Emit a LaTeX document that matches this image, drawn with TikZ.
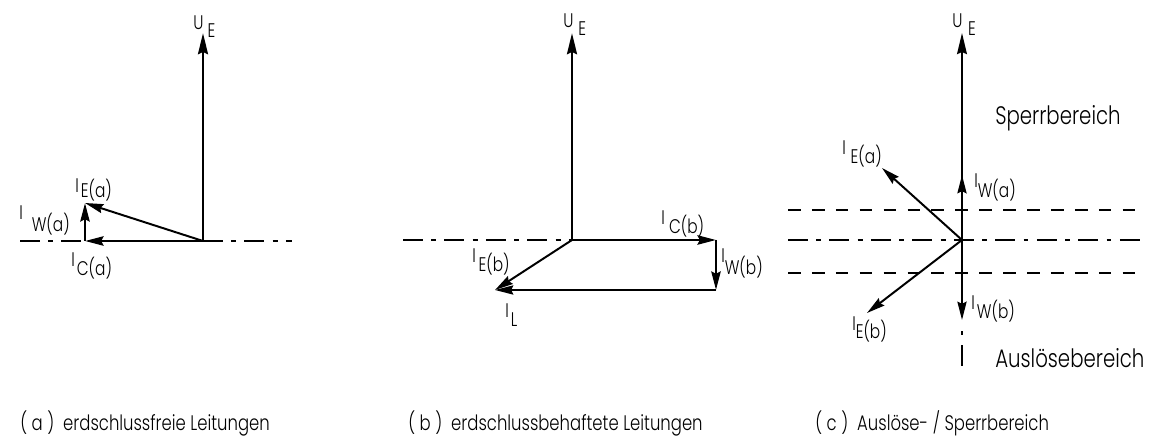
\documentclass[tikz,border=0pt]{standalone}
\usepackage{fontspec}
\setmainfont{Poppins Light}[FakeStretch=0.78]
\usetikzlibrary{arrows.meta}
\newcommand{\phasor}[4][I]{#1\hspace*{#2}\raisebox{-#3}{#4}}

\begin{document}
\begin{tikzpicture}[x=0.025cm,y=-0.025cm,
  vec/.style={line width=2.1pt,-{Stealth[length=13pt,width=6.5pt,inset=1.5pt]}},
  bigvec/.style={line width=2.1pt,-{Stealth[length=15pt,width=7pt,inset=1.5pt]}},
  thinvec/.style={line width=1.4pt,-{Stealth[length=13pt,width=6.5pt,inset=1.5pt]}},
  axis/.style={line width=2.1pt,dash pattern=on 14pt off 6pt on 3.5pt off 6pt},
  band/.style={line width=1.4pt,dash pattern=on 9pt off 8pt},
  lbl/.style={anchor=base west,inner sep=0pt,font=\fontsize{14}{16}\selectfont},
  region/.style={anchor=base west,inner sep=0pt,font=\fontsize{18}{20}\selectfont},
  caption/.style={anchor=base west,inner sep=0pt,font=\fontsize{15}{18}\selectfont}]
\useasboundingbox (0,0) rectangle (1152,446);

% (a) erdschlussfreie Leitungen
\coordinate (oa) at (203,241);
\coordinate (ua) at (203,33);
\coordinate (axl) at (20,241);
\coordinate (axr) at (292,241);
\coordinate (ica) at (85,241);
\coordinate (iwa) at (85,203);
\draw[axis] (axl) -- (ica);
\draw[axis] (oa) -- (axr);
\draw[bigvec] (oa) -- (ua);
\draw[vec] (oa) -- (ica);
\draw[vec] (ica) -- (iwa);
\draw[thinvec] (oa) -- (iwa);
\node[lbl] (ua-l) at (193,30) {\phasor[U]{3pt}{5pt}{E}};
\node[lbl] (iea-l) at (75,193) {\phasor{1.5pt}{3pt}{E(a)}};
\node[lbl] (iwa-l) at (19,220) {\phasor{6.4pt}{8.5pt}{W(a)}};
\node[lbl] (ica-l) at (71,267) {\phasor{1.5pt}{5.7pt}{C(a)}};
\node[caption] (cap-a) at (20,430) {( a )\ \ erdschlussfreie Leitungen};

% (b) erdschlussbehaftete Leitungen
\coordinate (ob) at (572,240);
\coordinate (ub) at (572,33);
\coordinate (bxl) at (403,240);
\coordinate (icb) at (716,240);
\coordinate (iwb) at (716,290);
\coordinate (ieb) at (495,290);
\draw[axis] (bxl) -- (ob);
\draw[bigvec] (ob) -- (ub);
\draw[vec] (ob) -- (icb);
\draw[vec] (icb) -- (iwb);
\draw[thinvec] (iwb) -- (ieb);
\draw[thinvec] (ob) -- (ieb);
\node[lbl] (ub-l) at (563,28) {\phasor[U]{3.5pt}{5pt}{E}};
\node[lbl] (icb-l) at (661,225) {\phasor{3pt}{5.7pt}{C(b)}};
\node[lbl] (iwb-l) at (721,263) {\phasor{0pt}{8pt}{W(b)}};
\node[lbl] (ieb-l) at (472,263) {\phasor{2pt}{6.4pt}{E(b)}};
\node[lbl] (il-l) at (505,317) {\phasor{1.5pt}{6.4pt}{L}};
\node[caption] (cap-b) at (408,430) {( b )\ \ erdschlussbehaftete Leitungen};

% (c) Ausloese- / Sperrbereich
\coordinate (oc) at (962,240);
\coordinate (uc) at (962,33);
\coordinate (cxl) at (788,240);
\coordinate (cxr) at (1143,240);
\coordinate (bul) at (788,210);
\coordinate (bur) at (1140,210);
\coordinate (bdl) at (788,273);
\coordinate (bdr) at (1140,273);
\coordinate (iwac) at (962,175);
\coordinate (iwbc) at (962,320);
\coordinate (iea) at (882,168);
\coordinate (iebc) at (867,313);
\coordinate (cend) at (962,366);
\draw[band] (bul) -- (bur);
\draw[band] (bdl) -- (bdr);
\draw[axis] (cxl) -- (cxr);
\draw[line width=1.4pt,dash pattern=on 0pt off 8pt on 3pt off 7pt on 15pt off 20pt] (iwbc) -- (cend);
\draw[thinvec,-{Stealth[length=15pt,width=7pt,inset=1.5pt]}] (oc) -- (uc);
\draw[thinvec] (oc) -- (iwac);
\draw[thinvec] (oc) -- (iwbc);
\draw[thinvec] (oc) -- (iea);
\draw[thinvec] (oc) -- (iebc);
\node[lbl] (uc-l) at (952,28) {\phasor[U]{4pt}{5pt}{E}};
\node[lbl] (iea-l) at (842,155) {\phasor{3.5pt}{5.7pt}{E(a)}};
\node[lbl] (iwac-l) at (974,188) {\phasor{0pt}{7pt}{W(a)}};
\node[lbl] (iwbc-l) at (971,310) {\phasor{1.5pt}{5.7pt}{W(b)}};
\node[lbl] (iebc-l) at (852,330) {\phasor{0pt}{5.7pt}{E(b)}};
\node[region] (sperr) at (995,125) {Sperrbereich};
\node[region] (ausl) at (995,367) {Auslösebereich};
\node[caption] (cap-c) at (815,430) {( c )\ \ Auslöse-\ /\ Sperrbereich};
\end{tikzpicture}
\end{document}
